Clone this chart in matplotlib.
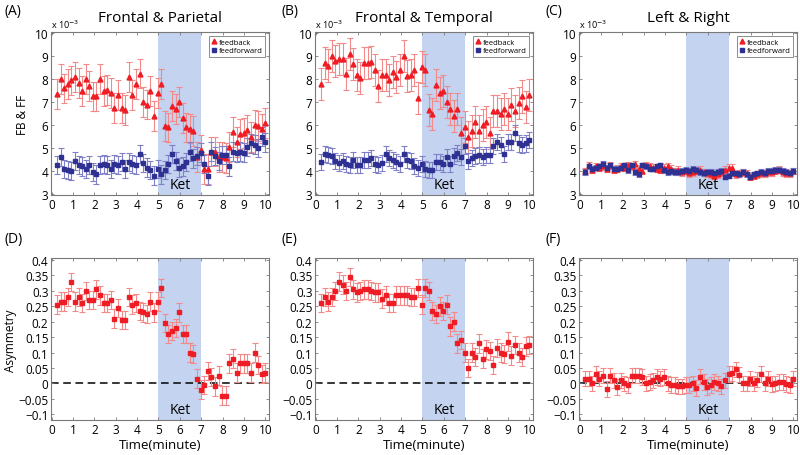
import numpy as np
import matplotlib
matplotlib.use('Agg')
import matplotlib.pyplot as plt

plt.rcParams['font.family'] = ['Open Sans', 'DejaVu Sans']

# time axis (minutes), 59 samples
t = np.linspace(0.25, 10, 59)

# --- FB & FF (x 1e-3) ---
fp_fb = [7.35, 8.0, 7.6, 7.8, 7.95, 8.1, 7.85, 7.5, 8.0, 7.7, 7.25, 7.25, 8.0, 7.5, 7.55,
         7.4, 6.75, 7.3, 6.75, 6.65, 8.1, 7.3, 7.8, 8.25, 7.0, 6.9, 7.5, 6.4, 7.4, 7.8,
         5.95, 5.9, 6.85, 6.7, 7.0, 6.3, 5.9, 5.85, 5.75, 4.6, 4.9, 4.1, 4.1, 4.85, 4.85,
         4.6, 4.6, 4.55, 5.05, 5.7, 5.25, 5.6, 5.65, 5.8, 5.5, 6.0, 5.95, 5.85, 6.1]
fp_ff = [4.25, 4.6, 4.1, 4.05, 4.0, 4.45, 4.25, 4.2, 4.1, 4.25, 3.95, 3.85, 4.25, 4.3, 4.25,
         4.1, 4.3, 4.25, 4.4, 4.1, 4.4, 4.3, 4.25, 4.75, 4.35, 4.15, 4.05, 3.8, 4.1, 3.85,
         4.05, 4.3, 4.75, 4.45, 4.15, 4.2, 4.4, 4.85, 4.55, 4.65, 4.8, 4.3, 3.8, 4.85, 4.65,
         4.45, 4.7, 4.7, 4.2, 4.85, 4.8, 4.85, 4.8, 5.05, 5.2, 5.15, 5.0, 5.5, 5.25]
ft_fb = [7.8, 8.7, 8.6, 9.0, 8.8, 8.9, 8.9, 8.25, 9.1, 8.65, 8.2, 8.05, 8.7, 8.7, 8.75,
         8.4, 7.7, 8.2, 8.2, 7.95, 8.3, 8.1, 8.4, 9.0, 8.15, 8.2, 8.4, 7.2, 8.55, 8.4,
         6.65, 6.5, 7.75, 7.4, 7.5, 7.0, 6.7, 6.4, 6.7, 5.65, 5.9, 5.5, 5.75, 6.15, 5.75,
         6.0, 6.15, 5.65, 6.6, 6.6, 6.5, 6.7, 6.5, 6.9, 6.6, 6.95, 7.25, 6.8, 7.3]
ft_ff = [4.4, 4.75, 4.7, 4.65, 4.45, 4.35, 4.45, 4.3, 4.25, 4.5, 4.25, 4.25, 4.5, 4.5, 4.55,
         4.3, 4.25, 4.35, 4.75, 4.55, 4.5, 4.4, 4.3, 4.75, 4.5, 4.45, 4.2, 4.15, 4.3, 4.1,
         4.05, 4.05, 4.4, 4.4, 4.3, 4.6, 4.3, 4.65, 4.8, 4.6, 5.1, 4.45, 4.55, 4.65, 4.7,
         4.6, 4.7, 4.7, 5.1, 5.25, 5.15, 4.75, 5.25, 5.25, 5.65, 5.2, 5.15, 5.2, 5.35]
lr_fb = [4.0, 4.25, 4.05, 4.2, 4.15, 4.2, 4.1, 4.25, 4.05, 4.1, 4.2, 4.15, 4.25, 4.2, 4.3,
         4.1, 4.0, 4.25, 4.2, 4.15, 4.1, 4.05, 4.15, 4.2, 4.1, 4.0, 4.05, 3.95, 4.0, 3.9,
         3.95, 4.0, 4.05, 3.95, 3.9, 3.85, 3.8, 3.85, 3.95, 4.05, 4.15, 4.15, 3.85, 3.9, 3.95,
         3.9, 3.75, 3.8, 3.85, 3.9, 3.9, 3.95, 3.95, 4.0, 4.05, 3.95, 3.9, 3.9, 4.0]
lr_ff = [3.95, 4.2, 4.1, 4.15, 4.2, 4.3, 4.15, 4.25, 4.1, 4.1, 4.15, 4.25, 4.05, 4.25, 3.95,
         3.85, 4.25, 4.2, 4.1, 4.1, 4.2, 4.25, 4.05, 3.95, 4.0, 3.95, 3.95, 4.0, 4.05, 4.0,
         4.1, 4.05, 3.95, 3.9, 3.95, 3.95, 3.9, 3.95, 4.0, 3.75, 3.8, 3.9, 3.9, 3.85, 3.95,
         3.85, 3.75, 3.85, 3.9, 3.95, 3.9, 4.0, 4.0, 4.05, 4.05, 4.0, 3.95, 3.9, 4.0]

# --- Asymmetry ---
fp_asym = [0.255, 0.265, 0.265, 0.28, 0.328, 0.265, 0.28, 0.26, 0.30, 0.27, 0.27, 0.305, 0.285, 0.26, 0.26,
           0.27, 0.21, 0.245, 0.205, 0.205, 0.28, 0.255, 0.26, 0.235, 0.23, 0.225, 0.265, 0.23, 0.265, 0.31,
           0.195, 0.16, 0.17, 0.18, 0.23, 0.16, 0.16, 0.10, 0.095, 0.015, -0.02, -0.005, 0.04, 0.02, -0.01,
           0.025, -0.04, -0.04, 0.065, 0.08, 0.035, 0.065, 0.065, 0.065, 0.035, 0.10, 0.06, 0.03, 0.035]
ft_asym = [0.26, 0.28, 0.265, 0.28, 0.30, 0.33, 0.32, 0.30, 0.345, 0.305, 0.295, 0.30, 0.305, 0.305, 0.30,
           0.295, 0.295, 0.275, 0.285, 0.26, 0.26, 0.285, 0.285, 0.285, 0.285, 0.28, 0.28, 0.31, 0.255, 0.31,
           0.30, 0.235, 0.225, 0.25, 0.235, 0.255, 0.185, 0.20, 0.13, 0.14, 0.10, 0.05, 0.10, 0.085, 0.13,
           0.08, 0.11, 0.105, 0.06, 0.115, 0.10, 0.095, 0.135, 0.09, 0.125, 0.10, 0.085, 0.12, 0.125]
lr_asym = [0.015, 0.015, 0.0, 0.03, 0.015, 0.025, -0.018, 0.025, 0.01, -0.012, 0.01, 0.0, -0.005, 0.025, 0.025,
           0.025, 0.02, 0.0, 0.005, 0.01, 0.02, 0.015, 0.02, 0.0, -0.005, -0.005, -0.01, -0.01, -0.005, -0.005,
           0.0, -0.015, 0.022, 0.005, -0.012, -0.005, 0.005, 0.0, -0.01, 0.01, 0.03, 0.032, 0.045, 0.028, 0.0,
           0.0, 0.015, 0.0, 0.012, 0.03, 0.0, 0.015, -0.002, 0.0, 0.005, 0.005, -0.002, -0.005, 0.015]

titles = ['Frontal & Parietal', 'Frontal & Temporal', 'Left & Right']
letters_top = ['(A)', '(B)', '(C)']
letters_bot = ['(D)', '(E)', '(F)']
fb_sets = [fp_fb, ft_fb, lr_fb]
ff_sets = [fp_ff, ft_ff, lr_ff]
fb_err = [0.65, 0.7, 0.15]
ff_err = [0.4, 0.35, 0.12]
asym_sets = [fp_asym, ft_asym, lr_asym]
asym_err = [0.03, 0.03, 0.025]

red = '#ee1c24'
red_light = '#f28a8a'
blue = '#2e3192'
blue_light = '#8080c8'
shade = '#c3d3f0'
gray = '#7a7a7a'

fig = plt.figure(figsize=(8, 4.56), dpi=100)
lefts = [0.064, 0.394, 0.724]
w = 0.2725

def style(ax):
    for s in ax.spines.values():
        s.set_color(gray)
        s.set_linewidth(0.8)
    ax.tick_params(direction='in', length=2.5, width=0.6, color=gray, labelsize=8.5,
                   top=True, right=True, pad=2)
    ax.set_xticks(range(0, 11))
    ax.set_xlim(-0.02, 10.18)

for k in range(3):
    ax = fig.add_axes([lefts[k], 0.57, w, 0.357])
    ax.axvspan(5, 7, color=shade, lw=0, zorder=0)
    ax.errorbar(t, fb_sets[k], yerr=fb_err[k], fmt='none', ecolor=red_light, elinewidth=0.8,
                capsize=2, capthick=0.8, zorder=2)
    ax.errorbar(t, ff_sets[k], yerr=ff_err[k], fmt='none', ecolor=blue_light, elinewidth=0.8,
                capsize=2, capthick=0.8, zorder=2)
    ax.plot(t, fb_sets[k], '^', color=red, ms=3.5, mec=red, ls='none', label='feedback', zorder=3)
    ax.plot(t, ff_sets[k], 's', color=blue, ms=3, mec=blue, ls='none', label='feedforward', zorder=3)
    ax.set_ylim(2.95, 10.05)
    ax.set_yticks(range(3, 11))
    style(ax)
    ax.text(6, 3.4, 'Ket', ha='center', va='center', fontsize=10)
    ax.text(0.0, 1.012, r'x 10$^{-3}$', transform=ax.transAxes, fontsize=6.5, ha='left', va='bottom')
    ax.set_title(titles[k], fontsize=11, pad=8)
    leg = ax.legend(loc='upper right', fontsize=5.5, handlelength=0.6, handletextpad=0.4,
                    borderpad=0.3, labelspacing=0.15, fancybox=False, framealpha=1, borderaxespad=0.5)
    leg.get_frame().set_edgecolor(gray)
    leg.get_frame().set_linewidth(0.6)
    if k == 0:
        ax.set_ylabel('FB & FF', fontsize=8.5, labelpad=4)
    fig.text(lefts[k] - 0.058 if k == 0 else lefts[k] - 0.042, 0.975, letters_top[k], fontsize=10, va='center')

    bx = fig.add_axes([lefts[k], 0.076, w, 0.355])
    bx.axvspan(5, 7, color=shade, lw=0, zorder=0)
    bx.axhline(0, color='black', ls=(0, (5, 3)), lw=1.1, zorder=1)
    bx.errorbar(t, asym_sets[k], yerr=asym_err[k], fmt='none', ecolor=red_light, elinewidth=0.8,
                capsize=2, capthick=0.8, zorder=2)
    bx.plot(t, asym_sets[k], 's', color=red, ms=3, ls='none', zorder=3)
    bx.set_ylim(-0.12, 0.405)
    bx.set_yticks([-0.1, -0.05, 0, 0.05, 0.1, 0.15, 0.2, 0.25, 0.3, 0.35, 0.4])
    bx.set_yticklabels(['\u22120.1', '\u22120.05', '0', '0.05', '0.1', '0.15', '0.2', '0.25', '0.3', '0.35', '0.4'])
    style(bx)
    bx.text(6, -0.085, 'Ket', ha='center', va='center', fontsize=10)
    bx.set_xlabel('Time(minute)', fontsize=9.5, labelpad=1)
    if k == 0:
        bx.set_ylabel('Asymmetry', fontsize=8.5, labelpad=1)
    fig.text(lefts[k] - 0.058 if k == 0 else lefts[k] - 0.042, 0.475, letters_bot[k], fontsize=10, va='center')

plt.savefig('out.png', dpi=100)
